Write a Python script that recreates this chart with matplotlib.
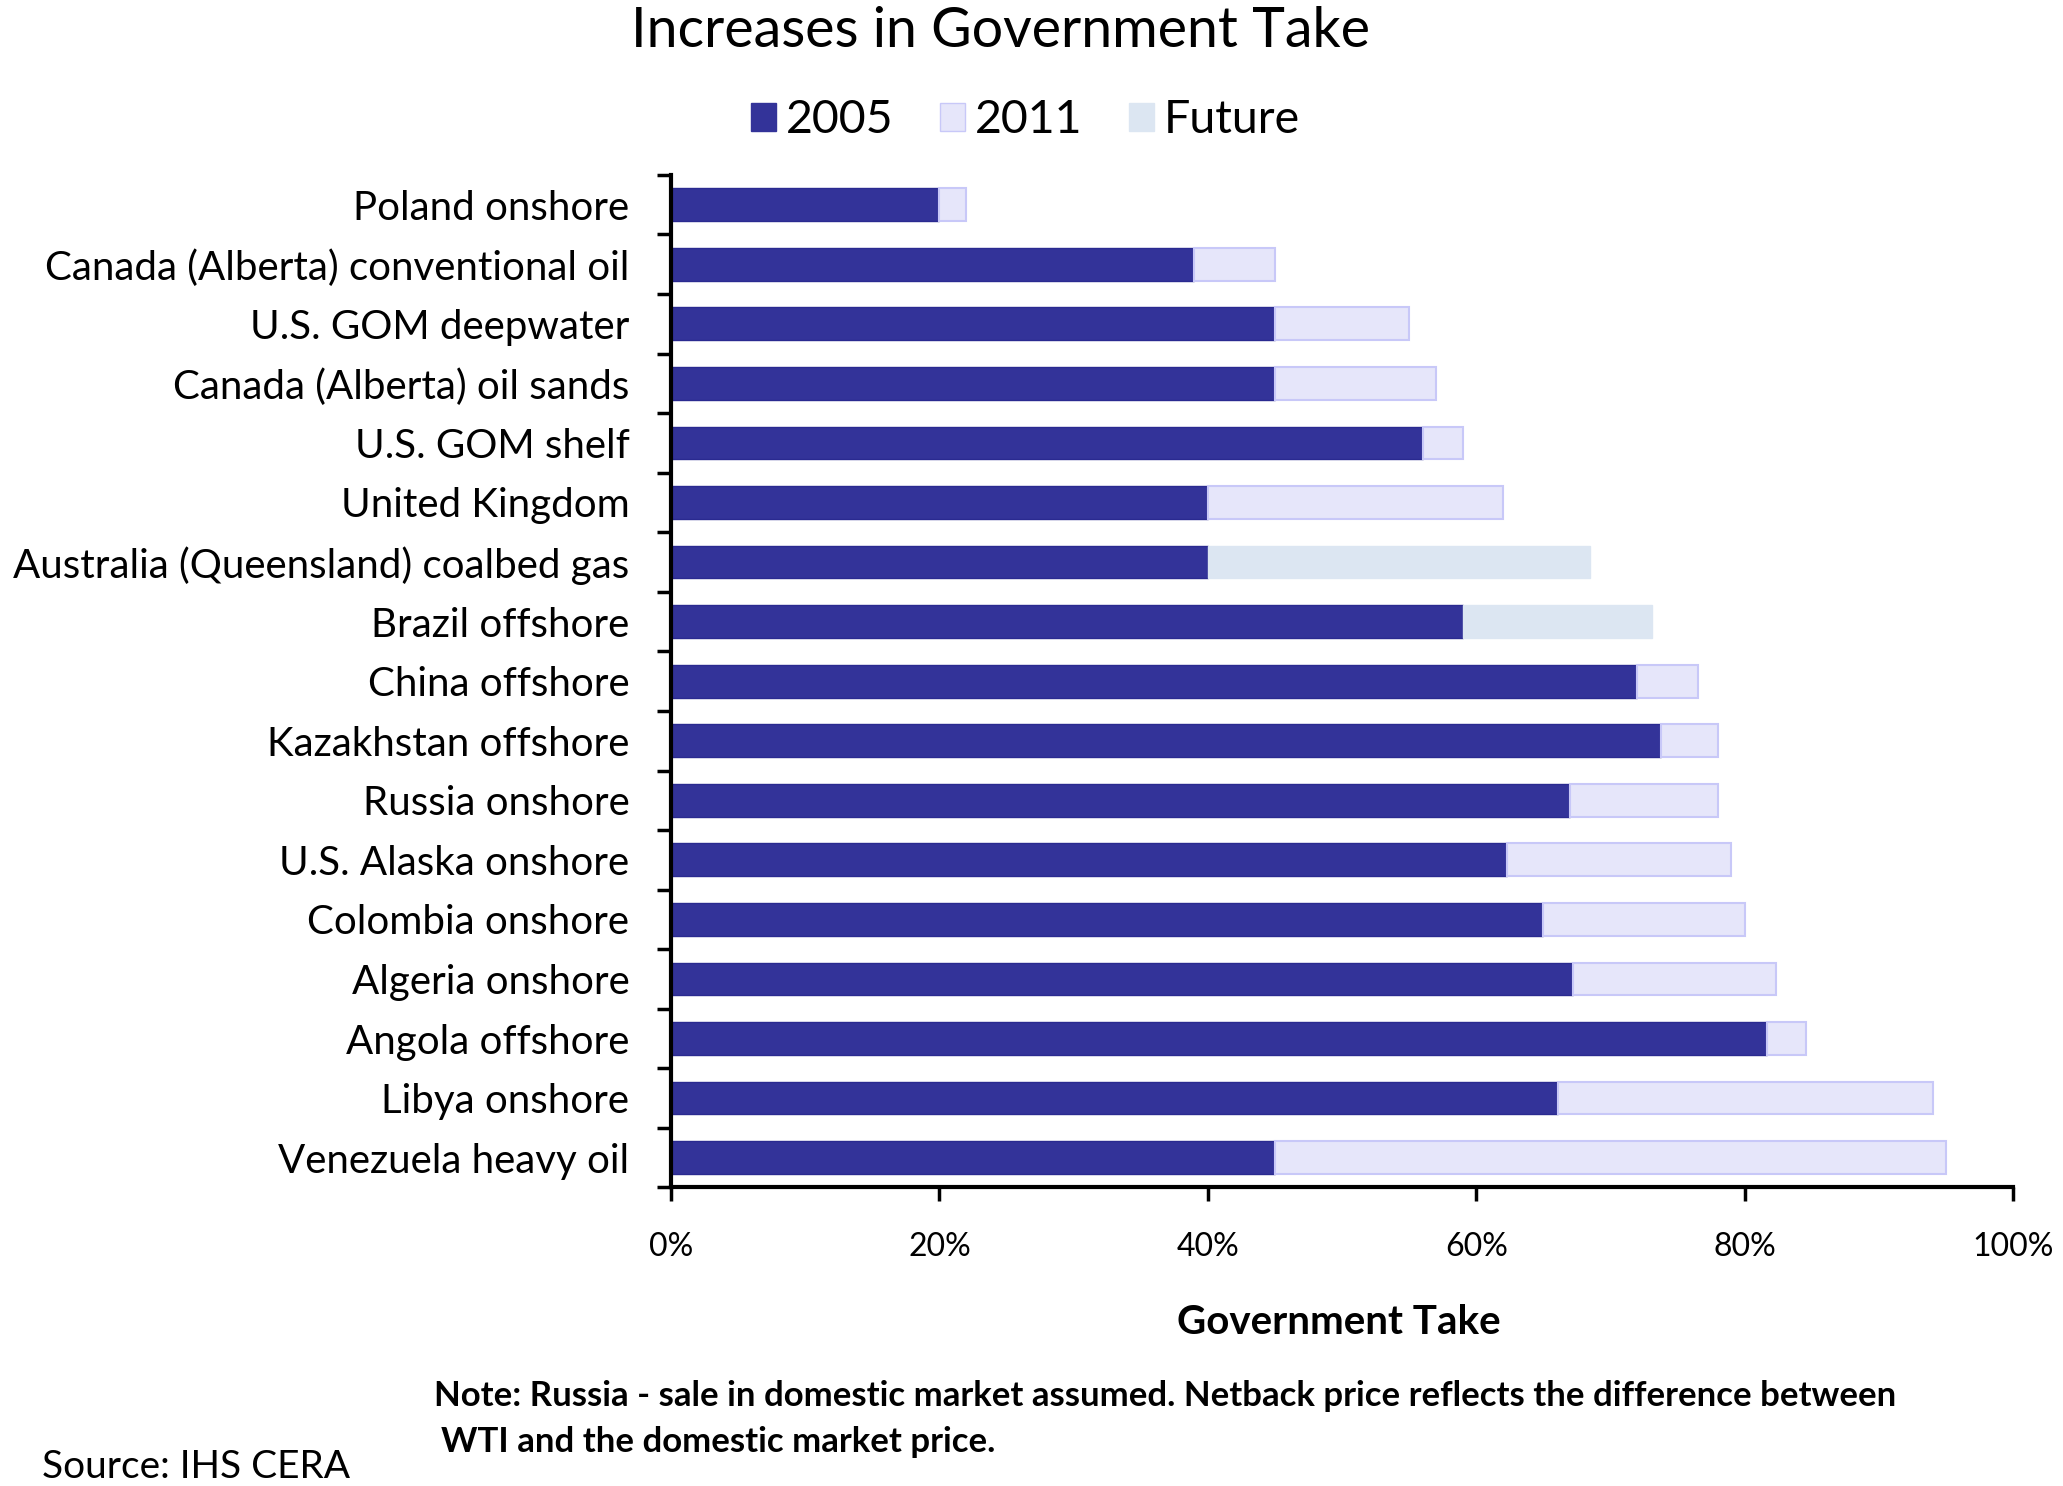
import numpy as np
import matplotlib.pyplot as plt
from matplotlib.patches import Patch

plt.rcParams['font.family'] = ['Lato', 'DejaVu Sans']

# Dados (em %)
paises = ['Poland onshore', 'Canada (Alberta) conventional oil', 'U.S. GOM deepwater',
          'Canada (Alberta) oil sands', 'U.S. GOM shelf', 'United Kingdom',
          'Australia (Queensland) coalbed gas', 'Brazil offshore', 'China offshore',
          'Kazakhstan offshore', 'Russia onshore', 'U.S. Alaska onshore',
          'Colombia onshore', 'Algeria onshore', 'Angola offshore', 'Libya onshore',
          'Venezuela heavy oil']
take_2005 = [20, 39, 45, 45, 56, 40, 40, 59, 72, 73.8, 67, 62.3, 65, 67.2, 81.7, 66.1, 45]
take_novo = [22, 45, 55, 57, 59, 62, 68.5, 73.1, 76.5, 78, 78, 79, 80, 82.3, 84.6, 94, 95]
futuro = [False, False, False, False, False, False, True, True, False, False, False,
          False, False, False, False, False, False]
xticks = [0, 20, 40, 60, 80, 100]

cor_2005 = '#333399'
cor_2011 = '#E6E6FA'
borda_2011 = '#C8C8F8'
cor_futuro = '#DCE6F2'

fig = plt.figure(figsize=(20.63, 14.86), dpi=100)
ax = fig.add_axes([0.3253, 0.2009, 0.9758 - 0.3253, 0.8823 - 0.2009])

y = np.arange(len(paises))
a = np.array(take_2005)
b = np.array(take_novo)
fut = np.array(futuro)
h = 0.55

ax.barh(y, a, height=h, color=cor_2005, edgecolor='#2A2A90', linewidth=1)
ax.barh(y[~fut], (b - a)[~fut], left=a[~fut], height=h, color=cor_2011,
        edgecolor=borda_2011, linewidth=1.5)
ax.barh(y[fut], (b - a)[fut], left=a[fut], height=h, color=cor_futuro,
        edgecolor=cor_futuro, linewidth=1)

ax.set_ylim(len(paises) - 0.5, -0.5)
ax.set_xlim(0, 100)

ax.set_yticks(y)
ax.set_yticklabels(paises, fontsize=29)
ax.set_yticks(np.arange(len(paises) + 1) - 0.5, minor=True)
ax.tick_params(axis='y', which='major', length=0, pad=30)
ax.tick_params(axis='y', which='minor', length=10, width=2.5, direction='out')

ax.set_xticks(xticks)
ax.set_xticklabels([f'{v}%' for v in xticks], fontsize=23)
ax.tick_params(axis='x', length=10, width=2.5, direction='out', pad=22)

for s in ['top', 'right']:
    ax.spines[s].set_visible(False)
for s in ['left', 'bottom']:
    ax.spines[s].set_linewidth(3)

fig.text(0.485, 0.979, 'Increases in Government Take', fontsize=40, ha='center', va='center')

handles = [Patch(facecolor=cor_2005, edgecolor=cor_2005, label='2005'),
           Patch(facecolor=cor_2011, edgecolor=borda_2011, label='2011'),
           Patch(facecolor=cor_futuro, edgecolor=cor_futuro, label='Future')]
fig.legend(handles=handles, loc='center', bbox_to_anchor=(0.497, 0.919), ncol=3,
           frameon=False, fontsize=33.5, handlelength=0.55, handleheight=0.55,
           handletextpad=0.2, columnspacing=1.0)

fig.text(0.649, 0.1098, 'Government Take', fontsize=29, fontweight='bold',
         ha='center', va='center')
fig.text(0.2105, 0.0608,
         'Note: Russia - sale in domestic market assumed. Netback price reflects the difference between',
         fontsize=25, fontweight='bold', ha='left', va='center')
fig.text(0.2136, 0.0295, 'WTI and the domestic market price.',
         fontsize=25, fontweight='bold', ha='left', va='center')
fig.text(0.0204, 0.0125, 'Source: IHS CERA', fontsize=28, ha='left', va='center')

fig.savefig('out.png', dpi=100)
